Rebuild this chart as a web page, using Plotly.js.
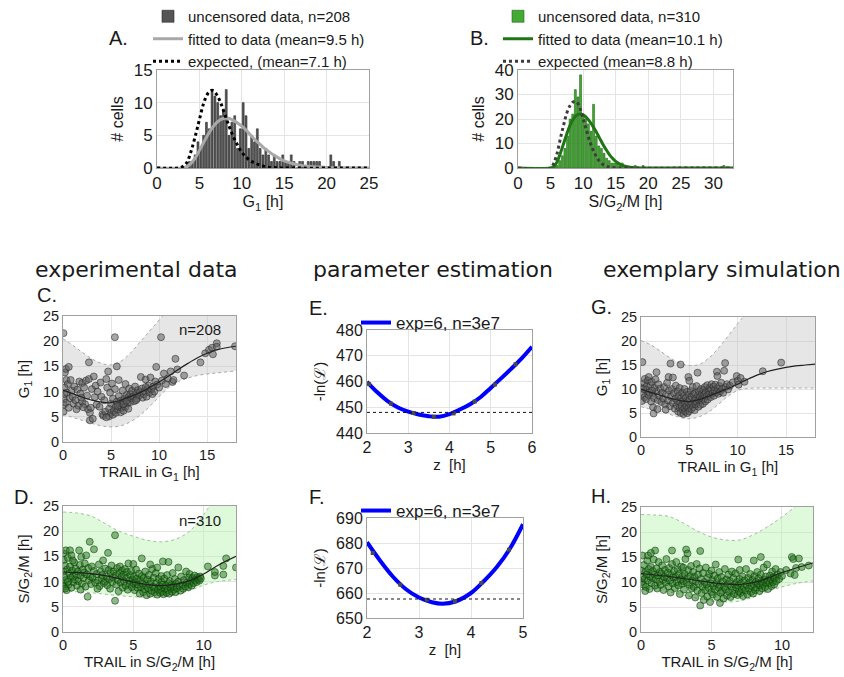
<!DOCTYPE html>
<html><head><meta charset="utf-8">
<script src="https://cdn.plot.ly/plotly-3.0.1.min.js"></script>
<style>html,body{margin:0;padding:0;background:#fff}#chart{width:844px;height:677px}</style>
</head><body><div id="chart"></div>
<script>
// ---------- Panel A : G1 histogram ----------
const A_bin_start = 3.83, A_bin_width = 1/3;
const A_counts = [1,1,2,4,3,5,7,6,12,11,10,8,9,12,5,7,8,3,6,10,8,3,5,4,6,3,2,3,2,1,2,1,1,2,1,1,2,1,0,1,1,0,1,1,1,1,1,0,0,0,2,1,0,1];
const A_fit_x = [0,3,3.5,4,4.5,5,5.5,6,6.5,7,7.5,8,8.5,9,9.5,10,10.5,11,11.5,12,12.5,13,13.5,14,14.5,15,16,17,18,19,20,22,25];
const A_fit_y = [0,0,0.2,0.7,1.5,2.7,3.9,5.1,6.1,6.9,7.4,7.6,7.6,7.3,6.9,6.4,5.8,5.1,4.4,3.8,3.2,2.7,2.2,1.8,1.4,1.1,0.7,0.4,0.25,0.15,0.08,0.03,0];
const A_exp_x = [0,2.5,3,3.5,4,4.5,5,5.5,6,6.5,7,7.5,8,8.5,9,9.5,10,10.5,11,11.5,12,12.5,13,14,15,25];
const A_exp_y = [0,0,0.2,0.8,2.5,4.8,7.4,9.9,11.4,11.9,11.3,10,8.2,6.4,4.8,3.5,2.4,1.7,1.1,0.8,0.5,0.3,0.15,0.05,0,0];
const A_names = ['uncensored data, n=208','fitted to data (mean=9.5 h)','expected, (mean=7.1 h)'];

// ---------- Panel B : S/G2/M histogram ----------
const B_bin_start = 5.6, B_bin_width = 0.4;
const B_counts = [1,1,3,5,8,13,20,22,32,29,38,22,20,18,15,26,13,9,8,6,4,3,2,2,2,1,2,0,0,0,0,1,0,0,1,
  0,0,0,0,0,0,0,0,0,0,0,0,0,0,0,0,0,0,0,0,0,0,0,0,0,0,0,0,0,0,1];
const B_fit_x = [0,5,5.5,6,6.5,7,7.5,8,8.5,9,9.5,10,10.5,11,11.5,12,12.5,13,13.5,14,14.5,15,15.5,16,17,18,19,33];
const B_fit_y = [0,0,0.5,2.5,6,10,14,17.5,20,21.5,22,21.7,20.6,19,17,14.8,12.3,9.8,7.6,5.6,4,2.7,1.8,1.1,0.4,0.1,0,0];
const B_exp_x = [0,5,5.5,6,6.5,7,7.5,8,8.5,9,9.5,10,10.5,11,11.5,12,12.5,13,13.5,14,15,16,33];
const B_exp_y = [0,0,2,6,12,17.5,22.5,25.5,27,27,24.5,20,15.5,11,7.5,4.8,2.8,1.5,0.8,0.4,0.1,0,0];
const B_names = ['uncensored data, n=310','fitted to data (mean=10.1 h)','expected (mean=8.8 h)'];

// ---------- Panel C : experimental G1 ----------
const C_points = [[0.05,21.6],[0.1,8.5],[0.1,7.4],[0.05,6.0],[0.15,9.5],[0.2,13.8],[0.3,14.5],[0.35,12.3],[0.5,11.5],[0.6,14.9],[0.15,10.8],[0.4,9.8],[0.7,8.7],[0.8,12.3],[0.9,10.2],[0.3,7.8],[0.6,6.8],[1.0,9.0],[1.1,7.6],[1.2,11.0],
[1.3,8.3],[1.5,10.4],[1.6,7.2],[1.7,12.0],[1.8,9.6],[2.0,11.7],[2.0,8.0],[2.2,10.8],[2.3,7.5],[2.4,12.2],[2.5,9.2],[2.6,6.5],[2.7,15.8],[2.7,12.5],[2.8,5.8],[2.8,4.3],[2.9,6.8],[3.0,10.5],[3.1,4.6],[3.2,13.0],[3.3,8.9],[1.9,8.8],[1.4,6.5],[2.1,6.9],
[3.4,11.2],[3.5,7.4],[3.6,10.0],[3.8,7.0],[3.9,11.8],[4.0,9.0],[4.1,5.5],[4.2,5.2],[4.3,8.3],[4.4,6.0],[4.5,12.5],[4.6,10.8],[4.7,14.0],[4.8,5.1],[4.8,6.6],[4.9,9.8],[5.0,5.8],[5.0,7.6],[5.1,11.6],[5.2,8.6],[5.2,5.4],[4.5,4.9],
[5.3,6.2],[5.4,20.8],[5.4,10.5],[5.5,7.1],[5.5,5.8],[5.6,15.0],[5.6,8.0],[5.7,6.5],[5.8,12.3],[5.8,9.1],[5.9,7.4],[6.0,5.9],[6.0,8.2],[6.1,6.8],[6.2,10.2],[6.2,7.6],[6.3,6.2],[6.4,8.6],[6.5,7.0],[6.5,11.5],[6.6,9.3],[6.7,7.7],[6.8,6.6],[6.8,8.9],[6.9,10.6],[7.0,7.9],[7.0,9.5],[5.7,7.2],[6.3,7.5],[6.6,8.2],
[7.1,8.7],[7.2,10.2],[7.3,9.0],[7.4,8.1],[7.5,11.0],[7.6,9.6],[7.7,8.6],[7.8,10.3],[7.9,9.2],[8.0,9.9],[8.1,12.9],[8.2,10.6],[8.3,8.8],[8.4,9.5],[8.5,10.1],[8.6,12.4],[8.7,9.0],[8.8,10.5],[8.9,11.2],[9.0,9.8],[9.1,12.8],[8.6,10.9],[7.6,8.3],
[9.2,10.4],[9.3,9.5],[9.4,11.0],[9.5,10.0],[9.6,12.0],[9.7,14.9],[9.8,11.4],[10.0,10.8],[10.2,20.8],[10.3,12.2],[10.5,13.6],[10.7,11.5],[10.9,12.6],[11.2,14.0],[11.4,11.9],[11.5,12.3],[11.7,16.5],[11.9,14.4],[12.6,13.2],
[14.3,15.8],[14.8,17.6],[15.2,18.3],[15.5,18.7],[15.6,17.4],[16.0,19.6],[16.0,18.9],[17.9,19.0]];
const C_curve_x = [0,1,2,3,4,5,6,7,8,9,10,11,12,13,14,15,16,17,18];
const C_curve_y = [10.3,9.6,8.9,8.3,7.9,7.8,8.3,9.0,9.8,10.8,11.9,13.1,14.4,15.6,16.7,17.6,18.3,18.7,19.0];
const C_band_x = [0,1,2,3,4,5,6,7,8,9,10,11,12,13,14,15,16,17,18];
const C_upper = [20.5,19.2,17.8,16.5,15.6,15.3,16.0,17.6,19.8,22.0,24.2,26.5,29,31,33,34.5,36,37,38];
const C_lower = [5.5,4.9,4.3,3.7,3.2,3.0,3.2,4.0,5.3,7.0,9.0,10.8,12.0,12.7,13.2,13.5,13.7,13.9,14.1];

// ---------- Panel D : experimental S/G2/M ----------
const D_points = [[0.02,15.6],[0.05,14.3],[0.05,12.0],[0.05,9.6],[0.08,9.0],[0.1,11.0],[0.15,13.2],[0.2,16.2],[0.2,10.3],[0.25,8.3],[0.3,12.4],[0.35,14.7],[0.4,9.4],[0.45,11.6],[0.5,16.2],[0.5,13.0],[0.55,10.8],[0.6,15.2],[0.6,8.8],[0.65,12.2],[0.7,11.0],[0.75,9.9],[0.8,13.8],[0.85,10.4],[0.9,12.6],[0.95,11.4],[1.0,9.2],[0.35,10.0],[0.15,8.6],[0.7,14.2],
[1.05,12.0],[1.1,10.1],[1.15,16.2],[1.2,13.3],[1.25,11.2],[1.3,14.9],[1.35,9.6],[1.4,12.4],[1.45,10.7],[1.5,11.8],[1.55,13.6],[1.6,9.0],[1.65,15.2],[1.7,11.4],[1.75,7.0],[1.8,12.7],[1.85,10.3],[1.9,17.9],[1.95,11.0],[2.0,9.5],[2.05,13.0],[2.1,10.8],[2.2,16.4],[2.2,12.1],[2.3,9.8],[2.4,11.5],[2.5,10.2],[2.55,13.4],[2.6,9.1],[2.7,12.0],[2.75,10.6],[2.8,11.3],[2.9,9.7],[3.0,12.6],[3.0,10.0],[2.45,8.6],[1.25,8.4],[2.85,14.2],
[3.1,11.0],[3.15,9.3],[3.2,15.7],[3.25,12.3],[3.3,10.5],[3.35,8.6],[3.4,11.7],[3.45,13.2],[3.5,9.9],[3.55,10.8],[3.6,12.0],[3.7,19.2],[3.7,6.2],[3.75,11.2],[3.8,9.4],[3.85,12.7],[3.9,10.3],[3.95,8.1],[4.0,11.6],[4.05,13.0],[4.1,9.8],[4.15,10.9],[4.2,12.2],[4.25,8.8],[4.3,11.4],[4.35,10.0],[4.4,12.5],[4.45,9.2],[4.5,10.7],[4.55,11.9],[4.6,8.4],[4.65,13.6],[4.7,10.2],[4.75,9.5],[4.8,11.3],[4.85,12.1],[4.9,8.9],[4.95,10.4],[5.0,13.5],[5.0,9.7],
[5.05,11.0],[5.1,8.3],[5.15,9.9],[5.2,12.4],[5.25,10.6],[5.3,8.8],[5.35,9.4],[5.4,11.6],[5.45,7.6],[5.5,10.2],[5.55,8.9],[5.6,14.6],[5.6,11.1],[5.65,9.6],[5.7,7.9],[5.75,10.7],[5.8,8.5],[5.85,12.0],[5.9,9.2],[5.95,7.3],[6.0,10.4],[6.05,8.7],[6.1,11.3],[6.15,9.5],[6.2,7.6],[6.25,10.0],[6.3,8.2],[6.35,12.5],[6.4,9.0],[6.45,10.8],[6.5,7.9],[6.55,8.8],[6.6,11.7],[6.65,9.7],[6.7,7.4],[6.75,8.4],[6.8,10.5],[6.85,9.1],[6.9,7.8],[6.95,8.9],[7.0,11.1],[7.0,9.9],[6.7,12.8],[6.2,13.4],
[7.05,8.0],[7.1,14.0],[7.1,9.4],[7.15,7.5],[7.2,10.6],[7.25,8.6],[7.3,9.2],[7.35,7.8],[7.4,11.3],[7.45,8.3],[7.5,9.7],[7.5,13.9],[7.55,7.6],[7.6,10.1],[7.65,8.8],[7.7,9.3],[7.75,8.0],[7.8,11.7],[7.85,9.0],[7.9,8.4],[7.95,10.5],[8.0,7.9],[8.05,9.6],[8.1,8.7],[8.2,12.8],[8.2,10.0],[8.3,9.1],[8.35,8.2],[8.4,11.0],[8.5,9.4],[8.55,8.6],[8.6,10.3],[8.7,9.0],[8.75,12.0],[8.8,9.8],[8.9,8.9],[8.95,10.8],[9.0,9.5],[9.0,11.5],
[9.1,10.1],[9.15,9.2],[9.2,10.7],[9.3,9.7],[9.35,11.2],[9.4,10.3],[9.5,9.9],[9.55,10.9],[9.6,10.5],[9.7,10.2],[9.75,11.0],[9.8,10.6],[10.3,13.0],[10.8,11.2],[10.8,11.9],[11.4,11.4],[11.4,13.1],[11.6,14.6],[12.3,12.8]];
const D_curve_x = [0,1,2,3,4,5,6,7,8,9,10,11,12.3];
const D_curve_y = [11.9,11.8,11.6,11.2,10.6,9.9,9.4,9.2,9.5,10.2,11.5,13.2,15.0];
const D_band_x = [0,1,2,3,4,5,6,7,8,9,10,11,12.3];
const D_upper = [23.8,23.6,23.0,21.5,20.0,19.0,18.2,17.9,18.4,20.0,23.3,27.5,33];
const D_lower = [8.1,8.0,7.8,7.5,7.2,7.0,6.9,7.0,7.4,8.2,9.3,10.0,10.4];

// ---------- Panel E / F : likelihood profiles ----------
const E_z = [2.0,2.25,2.5,2.75,3.0,3.25,3.5,3.75,4.0,4.25,4.5,4.75,5.0,5.25,5.5,5.75,6.0];
const E_nll = [459.9,455.8,452.4,449.9,448.3,447.2,446.5,446.3,447.3,449.1,451.2,453.9,457.5,461.2,465.0,469.0,473.5];
const E_sample_z = [2.05,2.58,3.13,3.62,4.1,4.61,5.1,5.6];
const E_sample_nll = [459.0,451.4,447.8,446.3,447.6,452.2,458.8,466.7];
const E_threshold = 448.0;
const F_z = [2.0,2.25,2.5,2.75,3.0,3.25,3.45,3.7,4.0,4.25,4.5,4.75,5.0];
const F_nll = [680.3,673.0,666.5,661.5,658.2,656.3,655.7,656.6,660.0,664.8,670.5,677.8,687.5];
const F_sample_z = [2.11,2.64,3.15,3.69,4.2,4.73];
const F_sample_nll = [676.0,663.3,657.3,656.7,664.0,677.3];
const F_threshold = 657.6;
const EF_name = 'exp=6, n=3e7';

// ---------- Panel G : simulated G1 ----------
const G_points = [[0.05,10.3],[0.1,7.5],[0.15,15.6],[0.2,9.0],[0.3,11.2],[0.35,8.3],[0.4,12.1],[0.5,9.8],[0.55,7.9],[0.6,10.6],[0.7,11.8],[0.75,8.8],[0.8,12.5],[0.9,9.3],[1.0,10.8],[1.05,7.4],[1.1,11.5],[1.2,9.0],[1.25,6.2],[1.3,4.9],[1.35,8.1],[1.4,10.2],[1.5,12.0],[1.6,13.5],[1.6,9.5],[1.7,5.8],[1.75,7.7],[1.8,11.0],[1.9,8.6],[2.0,10.1],[0.25,10.0],[1.15,9.7],
[2.1,7.3],[2.2,9.2],[2.3,8.0],[2.4,10.4],[2.5,6.8],[2.6,8.9],[2.7,11.3],[2.8,7.6],[2.85,12.5],[2.9,9.7],[3.0,6.4],[3.05,15.3],[3.1,8.4],[3.2,10.0],[3.3,12.4],[3.3,7.1],[3.4,9.1],[3.5,5.9],[3.55,8.0],[3.6,10.7],[3.7,6.6],[3.75,7.5],[3.8,9.5],[3.85,5.3],[3.9,8.6],[4.0,6.1],[4.0,10.2],[2.55,5.7],
[4.05,7.2],[4.1,15.1],[4.1,5.0],[4.15,8.1],[4.2,6.5],[4.25,9.2],[4.3,5.6],[4.35,7.6],[4.4,4.8],[4.45,8.6],[4.5,6.0],[4.5,10.0],[4.55,7.0],[4.6,5.3],[4.65,8.2],[4.7,6.4],[4.75,9.4],[4.8,5.0],[4.85,7.3],[4.9,12.5],[4.9,6.0],[4.95,8.8],[5.0,11.7],[5.0,5.4],[5.05,7.8],[5.1,6.7],[5.15,9.6],[5.2,5.8],[5.25,8.3],[5.3,7.0],[5.35,10.4],[5.4,6.2],[5.45,8.9],[5.5,7.5],[5.55,5.6],[5.6,9.1],[5.65,6.8],[5.7,8.0],[5.75,10.6],[5.8,7.2],[5.85,13.4],[5.9,8.7],[5.95,6.3],[6.0,9.5],[6.0,7.7],
[6.1,8.4],[6.15,6.7],[6.2,10.0],[6.25,7.6],[6.3,9.0],[6.35,8.1],[6.4,6.9],[6.45,9.8],[6.5,7.9],[6.55,8.8],[6.6,10.4],[6.65,7.4],[6.7,9.3],[6.8,8.5],[6.85,10.8],[6.9,7.8],[7.0,9.6],[7.05,8.9],[7.1,10.2],[7.2,8.3],[7.25,9.9],[7.3,11.0],[7.4,9.1],[7.5,10.5],[7.55,8.6],[7.6,9.7],[7.7,10.9],[7.8,9.3],[7.85,13.6],[7.9,12.7],[7.95,10.1],[8.0,9.0],[8.1,10.6],
[8.2,9.5],[8.3,11.3],[8.4,10.0],[8.5,9.2],[8.6,13.8],[8.7,15.4],[8.75,10.4],[8.9,11.0],[9.0,9.9],[9.2,10.7],[9.5,11.4],[9.9,12.7],[10.0,11.7],[10.1,10.9],[10.3,12.3],[10.7,11.5],[12.6,13.7],[14.5,15.5]];
const G_curve_x = [0,1,2,3,4,5,6,7,8,9,10,11,12,13,14,15,16,17,18];
const G_curve_y = [10.0,9.3,8.7,8.1,7.6,7.4,7.8,8.5,9.3,10.1,11.0,12.0,12.9,13.6,14.1,14.5,14.8,15.0,15.2];
const G_band_x = [0,1,2,3,4,5,6,7,8,9,10,11,12,13,14,15,16,17,18];
const G_upper = [20.1,19.2,17.9,16.5,15.4,14.9,15.1,16.4,18.5,21.0,23.6,26.0,28,30,31.5,33,34,35,36];
const G_lower = [6.3,5.8,5.3,4.7,4.1,3.8,4.2,5.2,6.8,8.5,9.7,10.1,10.2,10.2,10.2,10.2,10.2,10.2,10.2];

// ---------- Panel H : simulated S/G2/M ----------
const H_points = [[0.02,12.3],[0.05,10.0],[0.1,15.3],[0.1,11.0],[0.15,9.5],[0.2,13.4],[0.25,10.6],[0.3,12.0],[0.35,9.0],[0.4,11.5],[0.45,14.3],[0.5,15.3],[0.5,10.3],[0.55,12.6],[0.6,8.6],[0.65,11.1],[0.7,13.0],[0.75,9.8],[0.8,10.8],[0.85,12.2],[0.9,14.5],[0.95,11.5],[1.0,16.3],[1.0,9.3],[0.3,8.2],[0.7,15.8],
[1.05,10.6],[1.1,12.7],[1.15,8.7],[1.2,11.3],[1.25,14.0],[1.3,10.1],[1.35,12.0],[1.4,9.4],[1.45,11.7],[1.5,13.3],[1.55,10.4],[1.6,8.4],[1.65,11.0],[1.7,12.4],[1.75,9.9],[1.8,14.6],[1.85,10.8],[1.9,11.9],[1.95,9.1],[2.0,12.8],[2.05,10.3],[2.1,7.9],[2.15,11.4],[2.2,16.3],[2.2,13.6],[2.25,9.7],[2.3,10.9],[2.35,12.2],[2.4,8.8],[2.45,11.0],[2.5,14.0],[2.55,10.0],[2.6,12.5],[2.65,9.3],[2.7,11.6],[2.75,7.6],[2.8,10.5],[2.85,13.1],[2.9,9.6],[2.95,11.2],[3.0,12.9],[3.0,10.2],
[3.05,8.5],[3.1,11.6],[3.15,14.6],[3.2,16.5],[3.25,9.9],[3.3,15.7],[3.3,10.8],[3.35,12.4],[3.4,7.3],[3.45,9.4],[3.5,11.2],[3.55,13.2],[3.6,8.7],[3.65,10.3],[3.7,12.0],[3.75,9.0],[3.8,11.0],[3.85,6.9],[3.9,10.1],[3.95,13.6],[4.0,8.3],[4.05,11.5],[4.1,9.6],[4.15,12.7],[4.2,16.2],[4.2,5.3],[4.25,10.6],[4.3,7.8],[4.35,9.1],[4.4,11.8],[4.45,6.4],[4.5,10.0],[4.55,8.4],[4.6,12.9],[4.65,9.5],[4.7,7.1],[4.75,10.9],[4.8,8.8],[4.85,11.6],[4.9,6.0],[4.95,9.7],[5.0,12.3],[5.0,8.0],
[5.05,10.4],[5.1,7.5],[5.15,9.2],[5.2,11.3],[5.25,8.5],[5.3,13.5],[5.35,9.8],[5.4,7.0],[5.45,10.7],[5.5,8.9],[5.55,12.0],[5.6,5.8],[5.6,9.4],[5.65,7.8],[5.7,11.0],[5.75,8.2],[5.8,10.1],[5.85,6.7],[5.9,9.0],[5.95,12.6],[6.0,8.6],[6.05,10.5],[6.1,7.3],[6.15,9.6],[6.2,11.5],[6.25,8.0],[6.3,10.2],[6.35,7.0],[6.4,9.1],[6.45,12.1],[6.5,8.4],[6.55,10.8],[6.6,7.6],[6.65,9.5],[6.7,11.7],[6.75,8.9],[6.8,10.0],[6.85,7.4],[6.9,14.5],[6.9,9.3],[6.95,8.1],[7.0,10.6],[7.0,12.4],
[7.05,7.8],[7.1,9.7],[7.15,8.6],[7.2,11.1],[7.25,7.2],[7.3,9.0],[7.35,10.3],[7.4,8.3],[7.45,12.6],[7.5,9.4],[7.55,7.5],[7.6,10.8],[7.65,8.7],[7.7,9.9],[7.75,11.6],[7.8,8.0],[7.85,9.2],[7.9,10.4],[7.95,7.7],[8.0,14.3],[8.0,9.5],[8.05,11.2],[8.1,8.4],[8.15,10.0],[8.2,8.9],[8.25,12.0],[8.3,9.7],[8.35,10.7],[8.4,8.2],[8.45,9.3],[8.5,15.0],[8.5,11.5],[8.55,10.1],[8.6,8.7],[8.65,9.6],[8.7,12.9],[8.75,10.5],[8.8,9.0],[8.85,11.1],[8.9,9.9],[8.95,13.5],[9.0,10.3],[9.0,8.6],
[9.1,9.8],[9.15,11.3],[9.2,10.6],[9.25,9.2],[9.3,12.1],[9.35,10.0],[9.4,11.0],[9.45,9.5],[9.5,10.8],[9.55,12.6],[9.6,10.2],[9.7,11.5],[9.8,10.6],[9.9,12.0],[10.0,11.2],[10.3,12.4],[10.6,11.7],[10.7,15.0],[10.8,14.6],[11.0,12.8],[11.2,14.7],[11.4,13.0],[11.9,13.3],[10.9,11.4]];
const H_curve_x = [0,1,2,3,4,5,6,7,8,9,10,11,12.2];
const H_curve_y = [11.7,11.4,11.1,10.7,10.3,9.9,9.6,9.5,9.9,10.8,11.9,12.8,13.8];
const H_band_x = [0,1,2,3,4,5,6,7,8,9,10,11,12.2];
const H_upper = [23.5,23.4,23.1,21.8,20.2,19.0,18.4,18.4,19.5,21.1,23.0,25.2,28];
const H_lower = [8.5,8.4,8.0,7.4,6.7,6.2,6.0,6.2,7.0,8.1,9.0,9.7,10.2];

// ---------- layout helpers ----------
const W = 844, HH = 677;
const FONT = 'Liberation Sans, Arial, sans-serif';
const TXT = '#1a1a1a';
const dX = (a, b) => [a / W, b / W];
const dY = (top, bot) => [1 - bot / HH, 1 - top / HH];

function axis(domain, range, dtick, title, anchor, tsize, ttsize, standoff) {
  return {
    domain, range, dtick, tick0: 0, anchor,
    showgrid: true, gridcolor: '#e4e4e4', gridwidth: 1, zeroline: false,
    showline: true, mirror: true, linecolor: '#a0a0a0', linewidth: 1,
    ticks: '', tickfont: {family: FONT, size: tsize, color: TXT},
    title: {text: title, font: {family: FONT, size: ttsize, color: TXT}, standoff: standoff},
    fixedrange: true
  };
}

const traces = [];
// A
traces.push({type: 'bar', x0: A_bin_start, dx: A_bin_width, y: A_counts, width: 0.22, name: A_names[0],
  marker: {color: '#555555', line: {color: '#2a2a2a', width: 0.6}}, xaxis: 'x', yaxis: 'y', legend: 'legend'});
traces.push({type: 'scatter', mode: 'lines', x: A_fit_x, y: A_fit_y, name: A_names[1], line: {color: '#a8a8a8', width: 3, shape: 'spline'}, xaxis: 'x', yaxis: 'y', legend: 'legend'});
traces.push({type: 'scatter', mode: 'lines', x: A_exp_x, y: A_exp_y, name: A_names[2], line: {color: '#000000', width: 3, dash: 'dot', shape: 'spline'}, xaxis: 'x', yaxis: 'y', legend: 'legend'});
// B
traces.push({type: 'bar', x0: B_bin_start, dx: B_bin_width, y: B_counts, width: 0.3, name: B_names[0],
  marker: {color: '#46a935', line: {color: '#1e6a14', width: 0.6}}, xaxis: 'x2', yaxis: 'y2', legend: 'legend2'});
traces.push({type: 'scatter', mode: 'lines', x: B_fit_x, y: B_fit_y, name: B_names[1], line: {color: '#1f7414', width: 3, shape: 'spline'}, xaxis: 'x2', yaxis: 'y2', legend: 'legend2'});
traces.push({type: 'scatter', mode: 'lines', x: B_exp_x, y: B_exp_y, name: B_names[2], line: {color: '#3c3c3c', width: 3, dash: 'dot', shape: 'spline'}, xaxis: 'x2', yaxis: 'y2', legend: 'legend2'});

function scatterPanel(xa, ya, pts, bx, lo, up, cx, cy, fill, edge, mfill, mline) {
  traces.push({type: 'scatter', mode: 'lines', x: bx, y: lo, line: {color: edge, width: 1, dash: 'dot', shape: 'spline'}, showlegend: false, xaxis: xa, yaxis: ya, hoverinfo: 'skip'});
  traces.push({type: 'scatter', mode: 'lines', x: bx, y: up, fill: 'tonexty', fillcolor: fill, line: {color: edge, width: 1, dash: 'dot', shape: 'spline'}, showlegend: false, xaxis: xa, yaxis: ya, hoverinfo: 'skip'});
  traces.push({type: 'scatter', mode: 'markers', x: pts.map(p => p[0]), y: pts.map(p => p[1]), marker: {size: 7, color: mfill, line: {color: mline, width: 0.8}}, showlegend: false, xaxis: xa, yaxis: ya});
  traces.push({type: 'scatter', mode: 'lines', x: cx, y: cy, line: {color: '#222222', width: 1.2, shape: 'spline'}, showlegend: false, xaxis: xa, yaxis: ya});
}
const grayFill = 'rgba(195,195,195,0.42)', greenFill = 'rgba(185,242,175,0.45)';
scatterPanel('x3', 'y3', C_points, C_band_x, C_lower, C_upper, C_curve_x, C_curve_y, grayFill, '#a8a8a8', 'rgba(95,95,95,0.55)', 'rgba(40,40,40,0.7)');
scatterPanel('x4', 'y4', D_points, D_band_x, D_lower, D_upper, D_curve_x, D_curve_y, greenFill, '#a2bf9e', 'rgba(35,115,25,0.5)', 'rgba(10,60,10,0.7)');
scatterPanel('x7', 'y7', G_points, G_band_x, G_lower, G_upper, G_curve_x, G_curve_y, grayFill, '#a8a8a8', 'rgba(95,95,95,0.55)', 'rgba(40,40,40,0.7)');
scatterPanel('x8', 'y8', H_points, H_band_x, H_lower, H_upper, H_curve_x, H_curve_y, greenFill, '#a2bf9e', 'rgba(35,115,25,0.5)', 'rgba(10,60,10,0.7)');

// E & F
traces.push({type: 'scatter', mode: 'lines', x: E_z, y: E_nll, name: EF_name, line: {color: '#0000ff', width: 4, shape: 'spline'}, xaxis: 'x5', yaxis: 'y5', legend: 'legend3'});
traces.push({type: 'scatter', mode: 'markers', x: E_sample_z, y: E_sample_nll, marker: {symbol: 'square', size: 4, color: '#4a4a4a'}, showlegend: false, xaxis: 'x5', yaxis: 'y5'});
traces.push({type: 'scatter', mode: 'lines', x: F_z, y: F_nll, name: EF_name, line: {color: '#0000ff', width: 4, shape: 'spline'}, xaxis: 'x6', yaxis: 'y6', legend: 'legend4'});
traces.push({type: 'scatter', mode: 'markers', x: F_sample_z, y: F_sample_nll, marker: {symbol: 'square', size: 4, color: '#4a4a4a'}, showlegend: false, xaxis: 'x6', yaxis: 'y6'});

const ylab1 = '-ln(ℒ)';
const legendBase = {bgcolor: 'rgba(0,0,0,0)', borderwidth: 0, font: {family: FONT, size: 15, color: TXT}, xanchor: 'left', yanchor: 'top', tracegroupgap: 0, itemwidth: 30, traceorder: 'normal'};

const layout = {
  width: W, height: HH, margin: {l: 0, r: 0, t: 0, b: 0}, paper_bgcolor: '#fff', plot_bgcolor: '#fff',
  font: {family: FONT, color: TXT}, barmode: 'overlay', showlegend: true,
  xaxis: axis(dX(157, 369), [0, 25], 5, 'G<sub>1</sub> [h]', 'y', 17, 16, 3),
  yaxis: axis(dY(70, 168), [0, 15], 5, '# cells', 'x', 17, 16, 6),
  xaxis2: axis(dX(518, 733), [0, 33], 5, 'S/G<sub>2</sub>/M [h]', 'y2', 17, 16, 3),
  yaxis2: axis(dY(70, 168), [0, 40], 10, '# cells', 'x2', 17, 16, 6),
  xaxis3: axis(dX(63, 236), [0, 18], 5, 'TRAIL in G<sub>1</sub> [h]', 'y3', 14.5, 15, 3),
  yaxis3: axis(dY(316, 442), [0, 25], 5, 'G<sub>1</sub> [h]', 'x3', 14.5, 15, 9),
  xaxis4: axis(dX(63, 236), [0, 12.3], 5, 'TRAIL in S/G<sub>2</sub>/M [h]', 'y4', 14.5, 15, 3),
  yaxis4: axis(dY(506, 632), [0, 25], 5, 'S/G<sub>2</sub>/M [h]', 'x4', 14.5, 15, 9),
  xaxis5: axis(dX(367, 532), [2, 6], 1, 'z  [h]', 'y5', 16, 15, 4),
  yaxis5: axis(dY(330, 433), [440, 480], 10, ylab1, 'x5', 16, 15, 6),
  xaxis6: axis(dX(367, 523), [2, 5], 1, 'z  [h]', 'y6', 16, 15, 4),
  yaxis6: axis(dY(518, 618), [650, 690], 10, ylab1, 'x6', 16, 15, 6),
  xaxis7: axis(dX(641, 815), [0, 18], 5, 'TRAIL in G<sub>1</sub> [h]', 'y7', 14.5, 15, 3),
  yaxis7: axis(dY(317, 437), [0, 25], 5, 'G<sub>1</sub> [h]', 'x7', 14.5, 15, 9),
  xaxis8: axis(dX(641, 813), [0, 12.2], 5, 'TRAIL in S/G<sub>2</sub>/M [h]', 'y8', 14.5, 15, 3),
  yaxis8: axis(dY(507, 632), [0, 25], 5, 'S/G<sub>2</sub>/M [h]', 'x8', 14.5, 15, 9),
  legend: Object.assign({}, legendBase, {x: 148 / W, y: 1}),
  legend2: Object.assign({}, legendBase, {x: 498 / W, y: 1}),
  legend3: Object.assign({}, legendBase, {x: 356 / W, y: 1 - 305 / HH, font: {family: FONT, size: 17, color: TXT}}),
  legend4: Object.assign({}, legendBase, {x: 356 / W, y: 1 - 493 / HH, font: {family: FONT, size: 17, color: TXT}}),
  shapes: [
    {type: 'line', xref: 'x5 domain', yref: 'y5', x0: 0, x1: 1, y0: E_threshold, y1: E_threshold, line: {color: '#111', width: 1, dash: '3px,3px'}},
    {type: 'line', xref: 'x6 domain', yref: 'y6', x0: 0, x1: 1, y0: F_threshold, y1: F_threshold, line: {color: '#111', width: 1, dash: '3px,3px'}}
  ],
  annotations: []
};

const ann = (text, px, py, size, extra) => Object.assign({text, x: px / W, y: 1 - py / HH, xref: 'paper', yref: 'paper', showarrow: false, xanchor: 'left', yanchor: 'middle', font: {family: FONT, size, color: TXT}}, extra || {});
const TITLE_FONT = 'DejaVu Sans, sans-serif';
layout.annotations.push(
  ann('A.', 107, 38, 20), ann('B.', 468, 38, 20),
  ann('C.', 35, 295, 20), ann('D.', 12, 497, 20),
  ann('E.', 307, 308, 20), ann('F.', 307, 497, 20),
  ann('G.', 589, 307, 20), ann('H.', 589, 496, 20),
  ann('n=208', 200, 329, 15, {xanchor: 'center'}), ann('n=310', 200, 520, 15, {xanchor: 'center'}),
  ann('experimental data', 136, 270, 22, {xanchor: 'center', font: {family: TITLE_FONT, size: 22, color: TXT}}),
  ann('parameter estimation', 433, 270, 22, {xanchor: 'center', font: {family: TITLE_FONT, size: 22, color: TXT}}),
  ann('exemplary simulation', 722, 270, 22, {xanchor: 'center', font: {family: TITLE_FONT, size: 22, color: TXT}})
);

Plotly.newPlot('chart', traces, layout, {displayModeBar: false, staticPlot: true});
</script></body></html>
